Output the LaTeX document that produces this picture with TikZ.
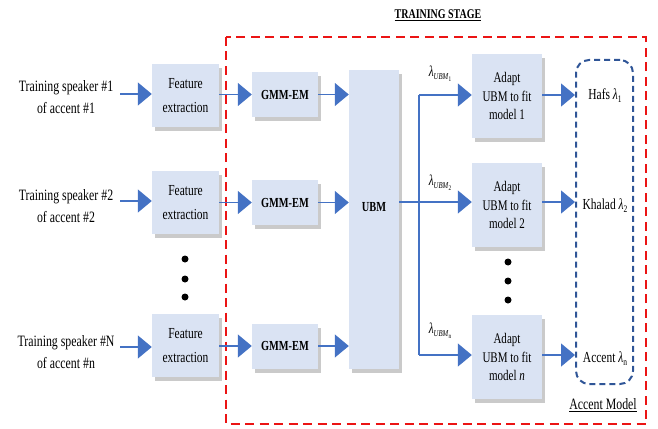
\documentclass[tikz,border=0pt]{standalone}
\usepackage{fontspec}
\setmainfont{Liberation Serif}[FakeStretch=0.75]
\usetikzlibrary{arrows.meta,shadows}
\definecolor{boxfill}{RGB}{218,227,243}
\definecolor{arrblue}{RGB}{68,114,196}
\definecolor{accblue}{RGB}{47,85,151}
\definecolor{redd}{RGB}{235,20,20}
\newcommand{\lam}{\textit{λ}}
\newcommand{\lub}[1]{\lam\raisebox{-3pt}{\fontsize{9}{10}\selectfont\textit{UBM}\raisebox{-2pt}{\fontsize{7}{8}\selectfont #1}}}
\tikzset{
  blk/.style={fill=boxfill, inner sep=0pt, align=center,
    drop shadow={shadow xshift=3pt, shadow yshift=-4pt, opacity=0.35, fill=black!60}},
  arr/.style={draw=arrblue, line width=1.4pt, -{Triangle[length=14pt,width=23pt]}},
  ln/.style={draw=arrblue, line width=1.4pt},
  intext/.style={align=center, font=\fontsize{15.8}{22.5}\selectfont},
  bxtext/.style={font=\fontsize{15.3}{24}\selectfont},
  adtext/.style={font=\fontsize{14.7}{18.5}\selectfont},
  bold/.style={font=\fontsize{13.8}{15}\selectfont\bfseries},
  dotc/.style={circle, fill=black, inner sep=0pt, minimum size=7pt},
}
\begin{document}
\begin{tikzpicture}[x=1pt,y=-1pt]
\useasboundingbox (0,0) rectangle (658,428);
% title
\node[font=\fontsize{13.3}{14}\selectfont\bfseries] (title) at (438,15) {\underline{TRAINING STAGE}};
% red dashed stage box
\draw[redd, line width=2.6pt, dash pattern=on 9pt off 5.5pt] (226,37) rectangle (646,424);
% inputs
\node[intext] (in1) at (66,97) {Training speaker \#1\\of accent \#1};
\node[intext] (in2) at (66,206) {Training speaker \#2\\of accent \#2};
\node[intext] (in3) at (66,352) {Training speaker \#N\\of accent \#n};
% feature extraction
\node[blk, bxtext, minimum width=67pt, minimum height=63pt] (fe1) at (185.5,95.5) {Feature\\extraction};
\node[blk, bxtext, minimum width=67pt, minimum height=63pt] (fe2) at (185.5,202.5) {Feature\\extraction};
\node[blk, bxtext, minimum width=67pt, minimum height=63pt] (fe3) at (185.5,345.5) {Feature\\extraction};
% GMM-EM
\node[blk, bold, minimum width=66pt, minimum height=45pt] (g1) at (285,94.5) {GMM-EM};
\node[blk, bold, minimum width=66pt, minimum height=45pt] (g2) at (285,202.5) {GMM-EM};
\node[blk, bold, minimum width=66pt, minimum height=45pt] (g3) at (285,346) {GMM-EM};
% UBM
\node[blk, minimum width=50pt, minimum height=299pt] (ubm) at (374,219.5) {};
\node[bold] (ubmt) at (374,207) {UBM};
% adapt
\node[blk, adtext, minimum width=70pt, minimum height=84pt] (a1) at (507,96) {Adapt\\UBM to fit\\model 1};
\node[blk, adtext, minimum width=70pt, minimum height=84pt] (a2) at (507,205) {Adapt\\UBM to fit\\model 2};
\node[blk, adtext, minimum width=70pt, minimum height=84pt] (a3) at (507,357) {Adapt\\UBM to fit\\model \textit{n}};
% accent model box
\node[draw=accblue, line width=2pt, dash pattern=on 6pt off 4pt, rounded corners=13pt,
      minimum width=57pt, minimum height=324pt, inner sep=0pt] (acc) at (604.5,222) {};
\node[font=\fontsize{15.3}{16}\selectfont] (m1) at (605,96) {Hafs \lam\raisebox{-3pt}{\fontsize{10}{11}\selectfont 1}};
\node[font=\fontsize{15.3}{16}\selectfont] (m2) at (605,206) {Khalad \lam\raisebox{-3pt}{\fontsize{10}{11}\selectfont 2}};
\node[font=\fontsize{15.3}{16}\selectfont] (m3) at (605,359) {Accent \lam\raisebox{-3pt}{\fontsize{10}{11}\selectfont n}};
\node[font=\fontsize{15.8}{16}\selectfont] (accl) at (603,405) {\underline{Accent Model}};
% lambda labels
\node[font=\fontsize{15}{16}\selectfont] (l1) at (440,74) {\lub{1}};
\node[font=\fontsize{15}{16}\selectfont] (l2) at (440,183) {\lub{2}};
\node[font=\fontsize{15}{16}\selectfont] (l3) at (440,331) {\lub{n}};
% dots
\node[dotc] (d1) at (185,259) {};
\node[dotc] (d2) at (185,279) {};
\node[dotc] (d3) at (185,297) {};
\node[dotc] (d4) at (508,262) {};
\node[dotc] (d5) at (508,281) {};
\node[dotc] (d6) at (508,300) {};
% coordinates
\coordinate (s1) at (120,94);
\coordinate (s2) at (120,201);
\coordinate (s3) at (120,347);
\coordinate (j1) at (419,95);
\coordinate (j2) at (419,202);
\coordinate (j3) at (419,355);
% arrows
\draw[arr] (s1) -- (s1 -| fe1.west);
\draw[arr] (s2) -- (s2 -| fe2.west);
\draw[arr] (s3) -- (s3 -| fe3.west);
\draw[arr] (fe1.east |- g1.west) -- (g1.west);
\draw[arr] (fe2.east |- g2.west) -- (g2.west);
\draw[arr] (fe3.east |- g3.west) -- (g3.west);
\draw[arr] (g1.east) -- (g1.east -| ubm.west);
\draw[arr] (g2.east) -- (g2.east -| ubm.west);
\draw[arr] (g3.east) -- (g3.east -| ubm.west);
\draw[ln] (j2 -| ubm.east) -- (j2);
\draw[ln] (j1) -- (j3);
\draw[arr] (j1) -- (j1 -| a1.west);
\draw[arr] (j2) -- (j2 -| a2.west);
\draw[arr] (j3) -- (j3 -| a3.west);
\draw[arr] (j1 -| a1.east) -- (j1 -| acc.west);
\draw[arr] (j2 -| a2.east) -- (j2 -| acc.west);
\draw[arr] (j3 -| a3.east) -- (j3 -| acc.west);
\end{tikzpicture}
\end{document}
